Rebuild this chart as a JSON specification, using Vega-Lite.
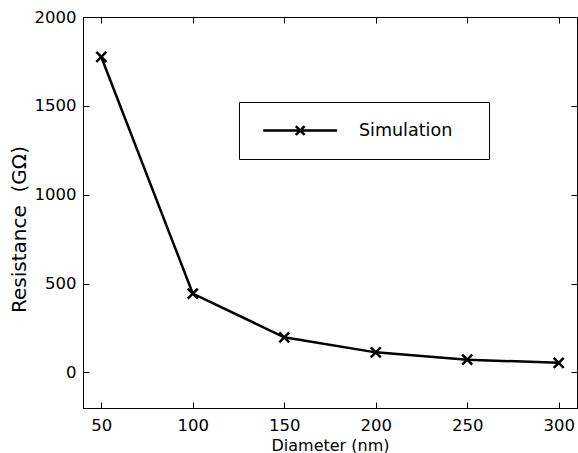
{
  "$schema": "https://vega.github.io/schema/vega-lite/v6.json",
  "width": 494,
  "height": 391,
  "autosize": "none",
  "padding": {"left": 83, "top": 17, "right": 1, "bottom": 45},
  "background": "white",
  "config": {
    "view": {"stroke": "black", "strokeWidth": 1},
    "font": "DejaVu Sans",
    "axis": {
      "grid": false,
      "domainColor": "black",
      "tickColor": "black",
      "labelColor": "black",
      "titleColor": "black",
      "labelFont": "DejaVu Sans",
      "titleFont": "DejaVu Sans",
      "labelFontSize": 16.5,
      "titleFontSize": 16,
      "titleFontWeight": "normal",
      "tickSize": -6,
      "domainWidth": 1,
      "format": "d"
    }
  },
  "data": {
    "values": [
      {"d": 50, "r": 1775, "series": "Simulation"},
      {"d": 100, "r": 444, "series": "Simulation"},
      {"d": 150, "r": 198, "series": "Simulation"},
      {"d": 200, "r": 113, "series": "Simulation"},
      {"d": 250, "r": 72, "series": "Simulation"},
      {"d": 300, "r": 54, "series": "Simulation"}
    ]
  },
  "layer": [
    {
      "mark": {"type": "line", "color": "black", "strokeWidth": 2.5,
               "point": {"shape": "M-1,-1L1,1M-1,1L1,-1", "size": 100, "color": "black", "stroke": "black", "strokeWidth": 2.5, "filled": false}},
      "encoding": {
        "x": {"field": "d", "type": "quantitative", "scale": {"domain": [40, 310], "nice": false, "zero": false},
              "axis": {"values": [50, 100, 150, 200, 250, 300], "title": "Diameter (nm)", "labelPadding": 15, "titlePadding": 4}},
        "y": {"field": "r", "type": "quantitative", "scale": {"domain": [-200, 2000], "nice": false, "zero": false},
              "axis": {"values": [0, 500, 1000, 1500, 2000], "title": "Resistance\u00a0\u00a0(GΩ)", "titleFontSize": 20, "labelPadding": 13,
                       "titleX": -58, "titleY": 212, "titleBaseline": "alphabetic", "titleAngle": -90, "titleAlign": "center"}},
        "color": {"field": "series", "type": "nominal", "scale": {"range": ["black"]},
          "legend": {
            "title": null,
            "orient": "none",
            "legendX": 156,
            "legendY": 85,
            "strokeColor": "black",
            "fillColor": "white",
            "padding": 19,
            "symbolType": "M-0.54,0H8.71M3.54,-0.55L4.64,0.55M3.54,0.55L4.64,-0.55M24.6,0",
            "symbolSize": 256,
            "symbolStrokeWidth": 2.5,
            "symbolStrokeColor": "black",
            "symbolFillColor": "transparent",
            "labelFontSize": 17.5,
            "labelFont": "DejaVu Sans",
            "labelColor": "black",
            "labelOffset": 82
          }}
      }
    },
    {
      "mark": {"type": "point", "opacity": 0},
      "encoding": {
        "x": {"field": "d", "type": "quantitative", "scale": {"domain": [40, 310], "nice": false, "zero": false},
              "axis": {"orient": "top", "values": [50, 100, 150, 200, 250, 300], "labels": false, "title": null}},
        "y": {"field": "r", "type": "quantitative", "scale": {"domain": [-200, 2000], "nice": false, "zero": false},
              "axis": {"orient": "right", "values": [0, 500, 1000, 1500, 2000], "labels": false, "title": null}}
      }
    }
  ],
  "resolve": {"scale": {"x": "independent", "y": "independent"}}
}
